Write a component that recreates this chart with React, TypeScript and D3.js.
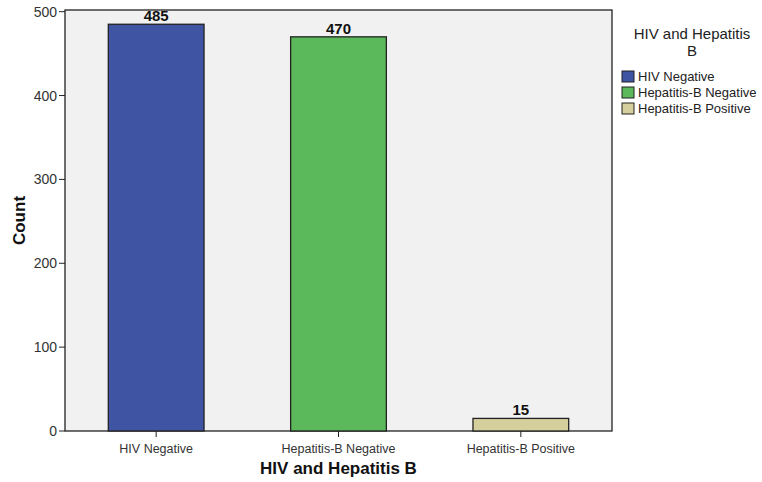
import React from "react";
import * as d3 from "d3";

const categories = ["HIV Negative", "Hepatitis-B Negative", "Hepatitis-B Positive"];
const counts = [485, 470, 15];
const colors = ["#3F55A4", "#5BB85B", "#D5CF9E"];
const yTicks = [0, 100, 200, 300, 400, 500];

export default function App() {
  const W = 762, H = 482;
  const left = 65, right = 612, top = 10, bottom = 431;
  const x = d3.scaleBand().domain(categories).range([left, right]).paddingInner(0.475).paddingOuter(0.2375);
  const y = d3.scaleLinear().domain([0, 502]).range([bottom, top]);
  const font = "Liberation Sans, Arial, sans-serif";
  return (
    <svg width={W} height={H} style={{ position: "absolute", left: 0, top: 0, background: "#fff" }} fontFamily={font}>
      <rect x={left} y={top} width={right - left} height={bottom - top} fill="#F0F1F0" stroke="#222" strokeWidth={1.3} />
      {categories.map((c, i) => (
        <g key={c}>
          <rect x={x(c)!} y={y(counts[i])} width={x.bandwidth()} height={bottom - y(counts[i])} fill={colors[i]} stroke="#222" strokeWidth={1.3} />
          <text x={x(c)! + x.bandwidth() / 2} y={y(counts[i]) - 3} textAnchor="middle" fontSize={15} fontWeight="bold" fill="#111">{counts[i]}</text>
          <line x1={x(c)! + x.bandwidth() / 2} x2={x(c)! + x.bandwidth() / 2} y1={bottom} y2={bottom + 6} stroke="#222" />
          <text x={x(c)! + x.bandwidth() / 2} y={bottom + 22} textAnchor="middle" fontSize={12.5} fill="#333">{c}</text>
        </g>
      ))}
      {yTicks.map(t => (
        <g key={t}>
          <line x1={left - 6} x2={left} y1={y(t)} y2={y(t)} stroke="#222" />
          <text x={left - 8} y={y(t) + 5} textAnchor="end" fontSize={14} fill="#333">{t}</text>
        </g>
      ))}
      <text transform={`translate(25,${(top + bottom) / 2}) rotate(-90)`} textAnchor="middle" fontSize={17} fontWeight="bold" fill="#111">Count</text>
      <text x={(left + right) / 2} y={474} textAnchor="middle" fontSize={17} fontWeight="bold" fill="#111">HIV and Hepatitis B</text>
      <text x={692} y={39} textAnchor="middle" fontSize={15} fill="#222">HIV and Hepatitis</text>
      <text x={692} y={56} textAnchor="middle" fontSize={15} fill="#222">B</text>
      {categories.map((c, i) => (
        <g key={"lg" + c}>
          <rect x={622} y={71 + i * 16} width={12} height={11} fill={colors[i]} stroke="#222" strokeWidth={1} />
          <text x={638} y={81 + i * 16} fontSize={13} fill="#222">{c}</text>
        </g>
      ))}
    </svg>
  );
}
